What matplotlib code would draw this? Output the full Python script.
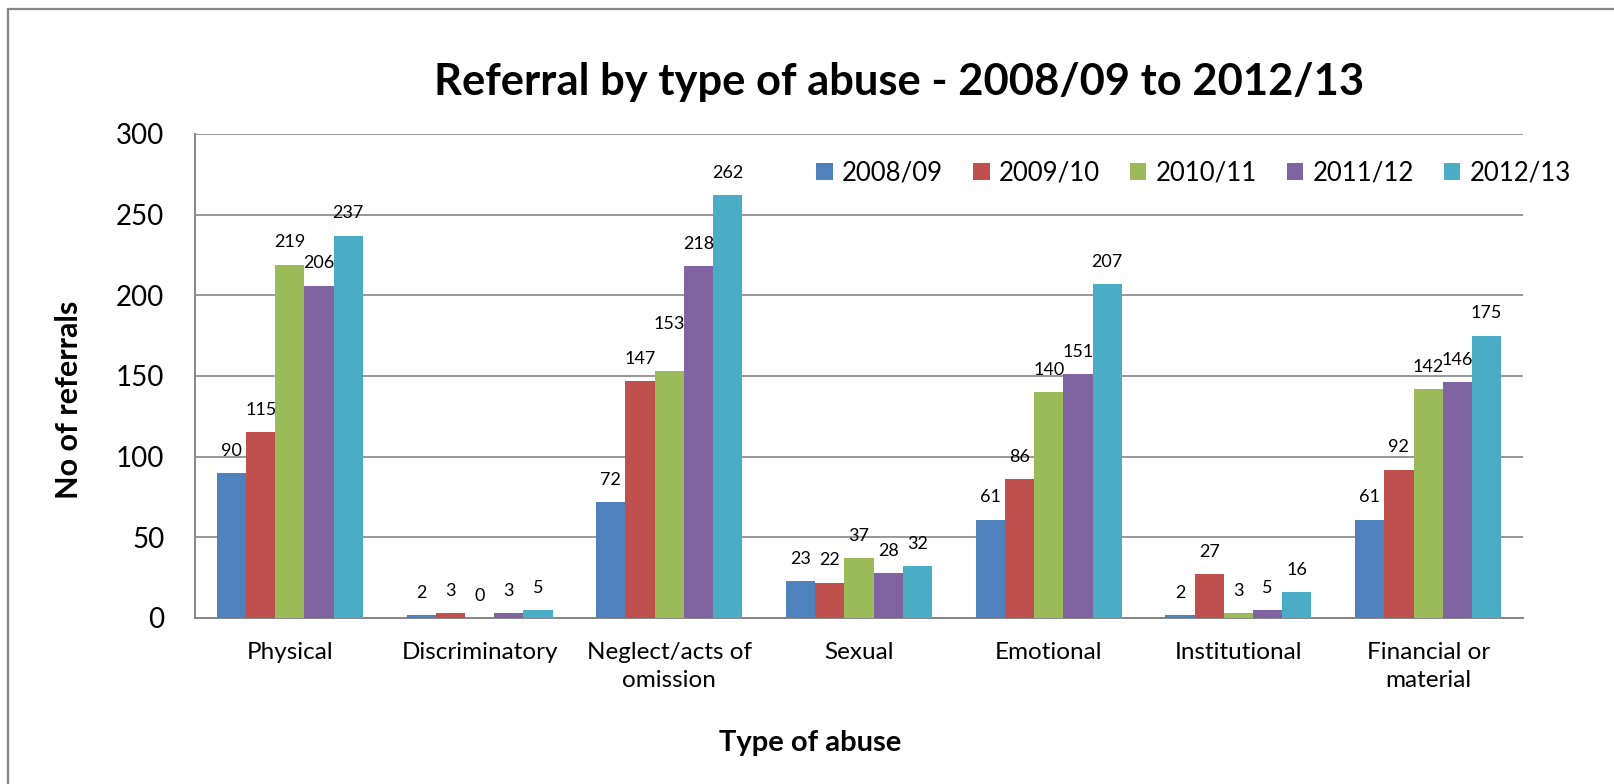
import numpy as np
import matplotlib.pyplot as plt
from matplotlib.patches import Rectangle

plt.rcParams['font.family'] = ['Lato', 'DejaVu Sans']

# data
categories = ['Physical', 'Discriminatory', 'Neglect/acts of\nomission', 'Sexual',
              'Emotional', 'Institutional', 'Financial or\nmaterial']
years = ['2008/09', '2009/10', '2010/11', '2011/12', '2012/13']
v_2008_09 = [90, 2, 72, 23, 61, 2, 61]
v_2009_10 = [115, 3, 147, 22, 86, 27, 92]
v_2010_11 = [219, 0, 153, 37, 140, 3, 142]
v_2011_12 = [206, 3, 218, 28, 151, 5, 146]
v_2012_13 = [237, 5, 262, 32, 207, 16, 175]
series = [v_2008_09, v_2009_10, v_2010_11, v_2011_12, v_2012_13]
colors = ['#4F81BD', '#C0504D', '#9BBB59', '#8064A2', '#4BACC6']
yticks = [0, 50, 100, 150, 200, 250, 300]

W, H = 1615, 784
fig = plt.figure(figsize=(W / 100, H / 100), dpi=100)

# outer chart frame (cut off at right and bottom in the reference)
fig.patches.append(Rectangle((8 / W, -0.02), 1.05, 1 - 9 / H + 0.02, transform=fig.transFigure,
                             fill=False, edgecolor='#868686', linewidth=1.6))

ax = fig.add_axes([195 / W, 1 - 618 / H, 1328 / W, 484 / H])

x = np.arange(len(categories))
bw = 0.154
grey = '#868686'

for i, (vals, col, yr) in enumerate(zip(series, colors, years)):
    pos = x + (i - 2) * bw
    ax.bar(pos, vals, width=bw, color=col, label=yr, zorder=3)
    for j, (px, v) in enumerate(zip(pos, vals)):
        extra = 18 if (i == 2 and j == 2) else 0  # label moved up in the original
        ax.annotate(str(v), (px, v), xytext=(0, 16 + extra), textcoords='offset points',
                    ha='center', va='center', fontsize=13, zorder=4)

ax.set_xlim(-0.5, len(categories) - 0.5)
ax.set_ylim(0, 300)
ax.set_yticks(yticks)
ax.set_xticks(x)
ax.set_xticklabels(categories, fontsize=17.5, linespacing=1.42)
ax.tick_params(axis='y', labelsize=20, length=0, pad=22)
ax.tick_params(axis='x', length=0, pad=17)
ax.grid(axis='y', color=grey, linewidth=1.2, zorder=0)
for s in ['top', 'right']:
    ax.spines[s].set_visible(False)
for s in ['left', 'bottom']:
    ax.spines[s].set_color(grey)
    ax.spines[s].set_linewidth(1.4)

fig.legend(loc='center left', bbox_to_anchor=(816 / W, 1 - 173 / H), ncol=5, frameon=False,
           fontsize=18.5, handlelength=0.65, handleheight=0.65, handletextpad=0.35,
           columnspacing=1.17, borderpad=0, borderaxespad=0)

fig.text(899 / W, 1 - 82 / H, 'Referral by type of abuse - 2008/09 to 2012/13',
         ha='center', va='center', fontsize=31.3, fontweight='bold')
fig.text(69 / W, 1 - 400 / H, 'No of referrals', ha='center', va='center', rotation=90,
         fontsize=22, fontweight='bold')
fig.text(810 / W, 1 - 743 / H, 'Type of abuse', ha='center', va='center',
         fontsize=21, fontweight='bold')

fig.savefig('out.png', dpi=100)
